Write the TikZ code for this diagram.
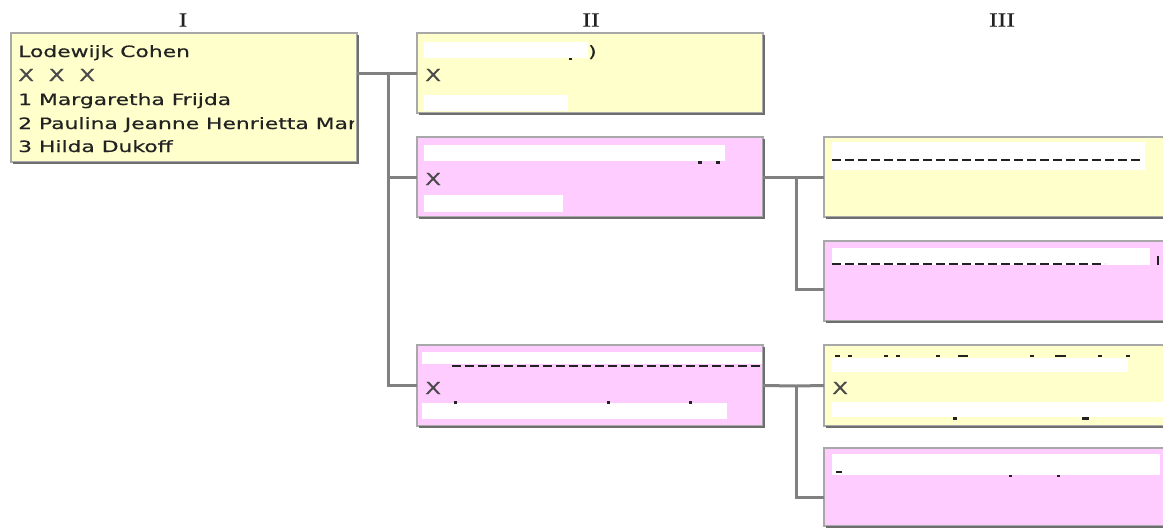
\documentclass[tikz,border=0pt]{standalone}
\usepackage{fontspec}
\setmainfont[FakeStretch=1.40,FakeBold=0.5]{DejaVu Sans}
\newfontfamily\numfont[FakeStretch=1.3,FakeBold=0.15]{Liberation Serif}
\definecolor{yel}{HTML}{FFFFCC}
\definecolor{pnk}{HTML}{FFCCFF}
\definecolor{brd}{HTML}{A8A8A8}
\definecolor{shd}{HTML}{6E6E6E}
\definecolor{con}{HTML}{808080}
\definecolor{txt}{HTML}{222222}
\definecolor{xcol}{HTML}{4A4A4A}
\tikzset{
  famb/.style={draw=brd, line width=2.5pt, anchor=north west, inner sep=0pt, outer sep=0pt},
  bw/.style={minimum width=#1},
  bh/.style={minimum height=#1},
  shadowline/.style={draw=shd, line width=2pt},
  conn/.style={draw=con, line width=3pt},
  ftext/.style={anchor=base west, inner sep=0pt, text=txt, font=\fontsize{15.6}{24}\selectfont},
  xtext/.style={anchor=base west, inner sep=0pt, text=xcol, font=\fontsize{16.5}{24}\selectfont},
  numtext/.style={inner sep=0pt, text=txt, font=\numfont\fontsize{20}{22}\selectfont},
  redact/.style={fill=white, draw=none},
  frag/.style={draw=txt, line width=2.5pt, dash pattern=on 9pt off 4pt},
  dotfrag/.style={fill=txt, draw=none}
}
\newcommand{\boxshadow}[1]{\draw[shadowline] ([xshift=2pt,yshift=-1pt]#1.south west) -- ([xshift=1pt,yshift=-1pt]#1.south east) -- ([xshift=1pt,yshift=-2pt]#1.north east);}
\begin{document}
\begin{tikzpicture}[x=1pt,y=-1pt]
\useasboundingbox (0,0) rectangle (1163,528);
\fill[white] (0,0) rectangle (1163,528);
\clip (0,0) rectangle (1163,528);

% column headings
\node[numtext] (h1) at (183,20) {I};
\node[numtext] (h2) at (591,20) {II};
\node[numtext] (h3) at (1002,20) {III};

% boxes
\node[famb, fill=yel, bw=346pt, bh=129pt] (b1) at (11,33) {};
\node[famb, fill=yel, bw=346pt, bh=80pt] (b21) at (417,33) {};
\node[famb, fill=pnk, bw=346pt, bh=80pt] (b22) at (417,137) {};
\node[famb, fill=pnk, bw=346pt, bh=81pt] (b23) at (417,345) {};
\node[famb, fill=yel, bw=370pt, bh=80pt] (b31) at (824,137) {};
\node[famb, fill=pnk, bw=370pt, bh=80pt] (b32) at (824,241) {};
\node[famb, fill=yel, bw=370pt, bh=81pt] (b33) at (824,345) {};
\node[famb, fill=pnk, bw=370pt, bh=78pt] (b34) at (824,448) {};
\boxshadow{b1}\boxshadow{b21}\boxshadow{b22}\boxshadow{b23}
\boxshadow{b31}\boxshadow{b32}\boxshadow{b33}\boxshadow{b34}

% connectors
\coordinate (j1) at (388,73);
\coordinate (j2) at (796,177);
\coordinate (j3) at (796,386);
\draw[conn] ([yshift=-40pt]b1.north east) -- (j1);
\draw[conn] (j1) -- (b21.west);
\draw[conn] (j1) -- (j1 |- b23.west) -- (b23.west);
\draw[conn] (j1 |- b22.west) -- (b22.west);
\draw[conn] (b22.east) -- (j2) -- (b31.west);
\draw[conn] (j2) -- (j2 |- 0,289) -- ([yshift=-48pt]b32.north west);
\draw[conn] (b23.east) -- (j3) -- (b33.west);
\draw[conn] (j3) -- (j3 |- 0,497) -- ([yshift=-49pt]b34.north west);

% box I text
\begin{scope}
\clip (b1.north west) rectangle ([xshift=-3pt]b1.south east);
\node[ftext] (t1) at (18,57) {Lodewijk Cohen};
\node[xtext] (t2) at (18,81) {X~~X~~X};
\node[ftext] (t3) at (18,105) {1 Margaretha Frijda};
\node[ftext] (t4) at (18,129) {2 Paulina Jeanne Henrietta Mar};
\node[ftext] (t5) at (18,152) {3 Hilda Dukoff};
\end{scope}

% box II-1
\fill[redact] (424,42) rectangle (588,58);
\fill[redact] (424,95) rectangle (568,111);
\node[ftext] (p21) at (588,57) {)};
\fill[dotfrag] (569,58) rectangle (572,60);
\node[xtext] (x21) at (425,81) {X};

% box II-2
\fill[redact] (424,145) rectangle (725,161);
\fill[dotfrag] (698,161) rectangle (702,164);
\fill[dotfrag] (716,161) rectangle (720,164);
\node[xtext] (x22) at (425,185) {X};
\fill[redact] (424,195) rectangle (563,212);

% box II-3
\fill[redact] (422,352) rectangle (762,364);
\draw[frag] (452,366) -- (760,366);
\node[xtext] (x23) at (425,394) {X};
\fill[redact] (422,403) rectangle (727,419);
\fill[dotfrag] (454,401) rectangle (457,404);
\fill[dotfrag] (607,401) rectangle (610,404);
\fill[dotfrag] (689,401) rectangle (692,404);

% box III-1
\fill[redact] (832,142) rectangle (1145,170);
\draw[frag] (832,160) -- (1142,160);

% box III-2
\fill[redact] (832,248) rectangle (1150,265);
\draw[frag] (832,264) -- (1105,264);
\fill[dotfrag] (1157,256) rectangle (1159,265);

% box III-3
\foreach \a/\b in {835/840,848/852,884/888,896/900,936/940,958/968,1030/1034,1055/1066,1098/1102,1126/1130}
  \fill[dotfrag] (\a,355) rectangle (\b,357);
\fill[redact] (832,358) rectangle (1128,372);
\node[xtext] (x33) at (832,394) {X};
\fill[redact] (832,402) rectangle (1163,417);
\fill[dotfrag] (953,417) rectangle (957,420);
\fill[dotfrag] (1082,417) rectangle (1089,420);

% box III-4
\fill[redact] (832,454) rectangle (1160,475);
\fill[dotfrag] (836,471) rectangle (842,473);
\fill[dotfrag] (1009,475) rectangle (1012,477);
\fill[dotfrag] (1057,475) rectangle (1060,477);
\end{tikzpicture}
\end{document}
